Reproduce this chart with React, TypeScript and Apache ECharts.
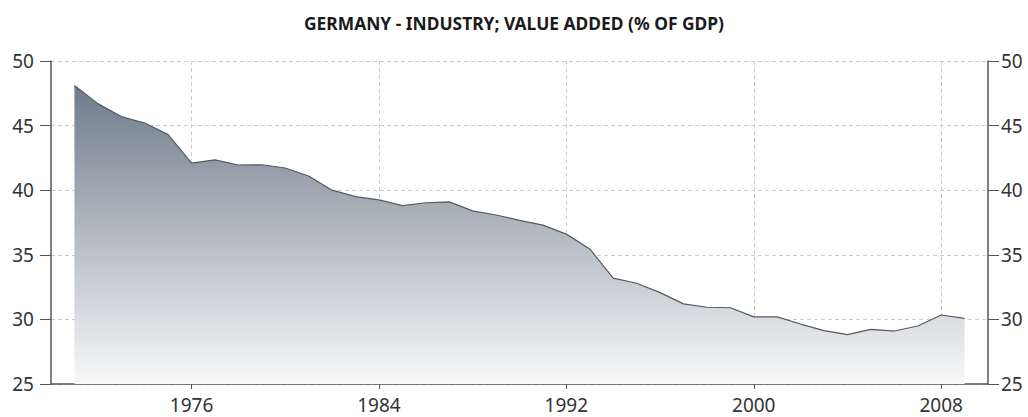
import React, { useEffect, useRef } from "react";
import * as echarts from "echarts";

const TITLE = "GERMANY - INDUSTRY; VALUE ADDED (% OF GDP)";

const years: string[] = [
  "1970", "1971", "1972", "1973", "1974", "1975", "1976", "1977", "1978", "1979",
  "1980", "1981", "1982", "1983", "1984", "1985", "1986", "1987", "1988", "1989",
  "1990", "1991", "1992", "1993", "1994", "1995", "1996", "1997", "1998", "1999",
  "2000", "2001", "2002", "2003", "2004", "2005", "2006", "2007", "2008", "2009",
  "2010",
];

const industryShare: (number | null)[] = [
  null, 48.1, 46.7, 45.7, 45.2, 44.3, 42.1, 42.35, 41.95, 41.97,
  41.72, 41.1, 40.0, 39.5, 39.25, 38.8, 39.03, 39.1, 38.4, 38.08,
  37.67, 37.3, 36.6, 35.45, 33.2, 32.8, 32.07, 31.2, 30.94, 30.9,
  30.2, 30.2, 29.64, 29.13, 28.82, 29.23, 29.1, 29.49, 30.34, 30.08,
  null,
];

const yMin = 25;
const yMax = 50;
const yStep = 5;
const labelYears = ["1976", "1984", "1992", "2000", "2008"];

export default function App() {
  const ref = useRef<HTMLDivElement>(null);

  useEffect(() => {
    if (!ref.current) return;
    const chart = echarts.init(ref.current, undefined, { renderer: "svg" });
    const showYear = (_i: number, v: string) => labelYears.indexOf(v) >= 0;
    const axisFont = {
      fontFamily: "'Noto Sans', sans-serif",
      fontSize: 19,
      color: "#333",
    };
    chart.setOption({
      animation: false,
      backgroundColor: "#ffffff",
      title: {
        text: TITLE,
        left: "center",
        top: 9,
        textStyle: {
          fontFamily: "'Noto Sans', sans-serif",
          fontWeight: "bold",
          fontSize: 17.4,
          color: "#1a1a1a",
        },
      },
      grid: { left: 51, right: 40, top: 61, bottom: 33 },
      xAxis: {
        type: "category",
        data: years,
        boundaryGap: false,
        axisLine: { show: true, lineStyle: { color: "#555", width: 1.5 } },
        axisTick: { show: true, interval: showYear, length: 5, lineStyle: { color: "#555" } },
        axisLabel: { ...axisFont, interval: showYear, margin: 11 },
        splitLine: {
          show: true,
          interval: showYear,
          lineStyle: { color: "#cccccc", type: [4, 3], width: 1 },
        },
      },
      yAxis: [
        {
          type: "value",
          min: yMin,
          max: yMax,
          interval: yStep,
          position: "left",
          axisLine: { show: true, lineStyle: { color: "#555", width: 1.5 } },
          axisTick: { show: true, length: 11, lineStyle: { color: "#555" } },
          axisLabel: { ...axisFont, margin: 17 },
          splitLine: { show: true, lineStyle: { color: "#cccccc", type: [4, 3], width: 1 } },
        },
        {
          type: "value",
          min: yMin,
          max: yMax,
          interval: yStep,
          position: "right",
          axisLine: { show: true, lineStyle: { color: "#555", width: 1.5 } },
          axisTick: { show: true, length: 11, lineStyle: { color: "#555" } },
          axisLabel: { ...axisFont, margin: 13 },
          splitLine: { show: false },
        },
      ],
      series: [
        {
          type: "line",
          data: industryShare,
          xAxisIndex: 0,
          yAxisIndex: 0,
          symbol: "none",
          connectNulls: false,
          lineStyle: { color: "#555a60", width: 1.2 },
          areaStyle: {
            color: new echarts.graphic.LinearGradient(0, 0, 0, 1, [
              { offset: 0, color: "#6e7b8a" },
              { offset: 0.5, color: "#b3bac3" },
              { offset: 1, color: "#f8f8f9" },
            ]),
            opacity: 1,
          },
        },
      ],
    });
    return () => chart.dispose();
  }, []);

  return (
    <div
      ref={ref}
      style={{ position: "fixed", left: 0, top: 0, width: 1028, height: 417 }}
    />
  );
}
